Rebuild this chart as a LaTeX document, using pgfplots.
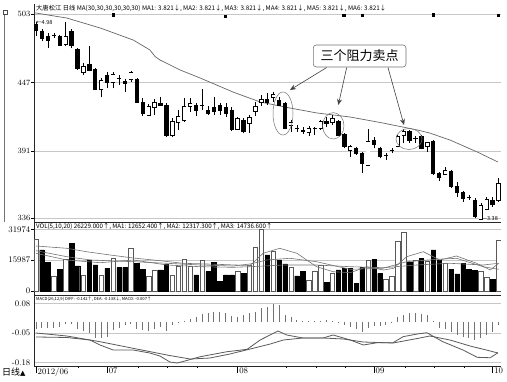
\documentclass[border=0pt]{standalone}
\usepackage{pgfplots}
\usepackage{pgfplotstable}
\pgfplotsset{compat=1.18}
\usetikzlibrary{arrows.meta}
\usepackage{graphicx}
\usepackage{fontspec}
\newfontfamily\cjk{Noto Sans CJK SC}
\newfontfamily\dejavu{DejaVu Sans}

% i: day, l: low, w: high-low, bl: body bottom, d: body height, bh: body top
\pgfplotstableread{
i  l     w     bl    d     bh
1  485   12    490   5     495
2  481.4 9.3   483   6.5   489.5
3  475.4 12.3  481.4 3.2   484.6
4  483.6 4.4   486   0     486
5  477   9     477.8 6.8   484.6
7  475.1 15.6  477.8 11.7  489.5
8  457.4 17.6  458.8 15.5  474.3
10 456.5 20.5  457.4 4.9   462.3
11 441   17.8  441.8 16.4  458.2
13 442.4 13.6  447   6.3   453.3
15 445.1 8.2   450.5 0     450.5
16 439.4 10.4  446.5 1.3   447.8
18 430.6 20    431.4 18.4  449.8
19 419.7 14.8  422   9.4   431.4
22 428   7.5   428.7 1.4   430.1
23 402.6 27.8  404.2 24.5  428.7
28 419.7 10.4  424.7 3.5   428.2
29 424.7 16.9  428.7 0     428.7
30 420.6 7.4   422.4 2.3   424.7
31 420.6 14.4  423.3 3.2   426.5
32 420.6 9.5   424.7 3.5   428.2
33 419.2 10.9  422   4.5   426.5
34 407.7 19.7  408.9 15.8  424.7
36 405.6 12.3  406.9 9     415.9
40 428.7 9.6   431.4 2     433.4
42 428.7 6.8   428.7 4.1   432.8
43 409.1 22.3  409.7 20.4  430.1
45 406.9 5.5   410.1 0     410.1
46 405   6     406.9 1.4   408.3
48 404.2 6.8   409.6 0     409.6
50 411   8.2   413.8 1.3   415.1
52 403.4 13.1  404.2 10.9  415.1
53 393.3 12.8  395.2 9.8   405
55 387.8 6.8   389.2 4.1   393.3
56 373.3 17.2  381   8.2   389.2
58 393.3 9.5   396.8 3.3   400.1
59 385.1 9.5   386.4 6.9   393.3
60 383.7 6     387.8 0     387.8
61 389.7 3.6   391.9 0     391.9
64 397.9 10.4  400.1 6.8   406.9
65 397.9 5.5   401.6 0     401.6
66 392.5 11.7  393.3 10.1  403.4
68 371.5 28.6  372.8 25.9  398.7
69 366.8 7.4   369.6 3.2   372.8
71 360.6 15    361.9 12.3  374.2
72 353.7 12.2  357   4.9   361.9
73 349.6 9     352.4 4.6   357
74 351   4.1   353.6 0     353.6
75 336   16.4  337.3 13.7  351
78 345.5 8.2   347.7 3.3   351
}\downT
\pgfplotstableread{
i  l     w     bl    d     bh
6  477   19.9  478.7 6.5   485.2
9  453.3 9.7   455.2 5.5   460.7
12 435   15.6  441.6 7     448.6
14 442.4 13.6  447.3 6.6   453.9
17 447.8 8.8   449.8 5.4   455.2
20 419.7 9.9   420.6 7.3   427.9
21 420.6 12.8  427.3 3.3   430.6
24 402.6 15.3  404.2 10.9  415.1
25 408.3 16.4  414.3 5.4   419.7
26 415.1 19.1  416.5 10.9  427.4
27 423.3 10.9  427.4 2.7   430.1
35 408.3 10.9  408.9 9     417.9
37 405.6 15    413.8 4.9   418.7
38 419.7 11.7  423.3 4.6   427.9
39 428   8.9   430.6 2.8   433.4
41 431.4 8.2   435.1 2.4   437.5
44 406.9 9.6   412.4 1.9   414.3
47 403.4 8.2   406.1 3.6   409.7
49 408.3 8.2   409.7 5.4   415.1
51 412.4 8.2   414.3 3.6   417.9
54 386.2 9.8   391.9 2.7   394.6
57 378.8 30.1  379.6 19.1  398.7
62 394.1 10.1  395.2 7.6   402.8
63 397.4 11.5  404.2 2.7   406.9
67 390.5 8.2   394.6 3.3   397.9
70 371.5 6.3   372.3 3.3   375.6
76 334.6 13.7  335.2 11.1  346.3
77 342.8 10.9  343.4 8.2   351.6
79 349.6 19.2  351   13.7  364.7
}\upT

\pgfplotsset{
  panel/.style={scale only axis, width=467pt, xmin=0.663, xmax=79.41,
    axis lines*=left, axis line style={black!85, line width=0.7pt},
    tick align=outside, major tick length=2.5pt,
    ymajorgrids, grid style={black!22, line width=0.5pt},
    yticklabel style={font=\fontsize{8.5}{9}\selectfont, inner sep=1pt},
    every tick/.style={black, line width=0.5pt},
    xtick=\empty, scaled y ticks=false},
  barlines/.style={draw=none, mark=none, forget plot,
    error bars/.cd, y dir=plus, y explicit, error mark=none,
    error bar style={draw=black, line width=#1}},
  edges/.style={only marks, mark=-, mark size=2.15pt, forget plot,
    mark options={draw=black, line width=0.5pt}},
}

\begin{document}
\begin{tikzpicture}[x=1pt,y=1pt]
\useasboundingbox (0,0) rectangle (507,-382);

% outer left frame line and corner icon
\draw[black!55, line width=0.6pt] (4,-15) -- (4,-222);
\draw[black!70, line width=0.5pt] (3,-10.5) rectangle (7,-14.5);

% ---------------- price panel ----------------
\begin{axis}[panel, at={(34pt,-4pt)}, anchor=north west, height=218pt,
  ymin=333.0, ymax=511.4, ytick={336,391,447,503}]
\addplot[black!60, line width=0.7pt] coordinates {
 (0.7,504.3) (1,504.0) (6.2,499.9) (11.8,491.8) (17.4,481.9) (20.2,473.8) (21.1,468.3)
 (21.9,465.6) (25.3,457.4) (28.7,450.8) (34.2,439.4) (38.8,431.2) (43.8,426.3)
 (48.4,422.2) (54,418.9) (59.5,414.0) (65.3,408.3) (67.4,405.8) (70.8,400.1)
 (75.4,390.3) (78.9,382.1)};
% wicks
\addplot[barlines=0.5pt] table[x=i, y=l, y error plus=w] {\downT};
\addplot[barlines=0.5pt] table[x=i, y=l, y error plus=w] {\upT};
% black bodies
\addplot[barlines=4.3pt] table[x=i, y=bl, y error plus=d] {\downT};
\addplot[edges] table[x=i, y=bl] {\downT};
\addplot[edges] table[x=i, y=bh] {\downT};
% white bodies
\addplot[barlines=4.3pt] table[x=i, y=bl, y error plus=d] {\upT};
\addplot[draw=none, mark=none, forget plot, error bars/.cd, y dir=plus, y explicit, error mark=none,
  error bar style={draw=white, line width=3.3pt}] table[x=i, y=bl, y error plus=d] {\upT};
\addplot[edges] table[x=i, y=bl] {\upT};
\addplot[edges] table[x=i, y=bh] {\upT};
\addplot[only marks, mark=square*, mark size=1.2pt, black] coordinates {
 (14,502.6) (32.9,501.5) (52.9,502.4) (56,502.4) (68,502.6) (78.9,502.4)};
\end{axis}

% ---------------- volume panel ----------------
\begin{axis}[panel, at={(34pt,-222pt)}, anchor=north west, height=73pt,
  ymin=-2073, ymax=35756, ytick={0,15987,31974}, yticklabels={0,15987,31974}]
\addplot[ybar, bar width=0.75, bar shift=0pt, draw=black, fill=black, line width=0.4pt] coordinates {
 (2,21246) (3,14665) (5,11245) (7,24718) (8,12955) (10,16064) (11,13473) (13,11763)
 (15,12074) (16,12281) (18,14354) (19,11245) (22,10882) (23,13836) (28,8291) (30,10001)
 (31,14665) (32,4819) (33,8291) (34,8291) (36,9172) (40,18655) (42,16064) (43,13991)
 (45,7773) (46,10001) (50,4301) (52,10882) (53,11763) (54,11763) (55,3990) (56,12074)
 (58,16427) (59,9172) (64,14665) (66,16945) (68,21246) (69,15701) (71,11245) (72,8809)
 (73,14354) (74,11245) (75,10519) (78,6063)};
\addplot[ybar, bar width=0.75, bar shift=0pt, draw=black!65, fill=white, line width=0.5pt] coordinates {
 (1,26790) (4,7410) (6,16427) (9,8291) (12,8291) (14,16945) (17,22127) (20,7410)
 (21,10882) (24,8291) (25,12592) (26,16427) (27,12592) (29,16064) (35,10001) (37,13473)
 (38,22542) (39,31973) (41,20365) (44,12281) (47,5700) (48,10001) (49,13473) (51,9172)
 (57,16064) (60,6063) (61,7410) (62,25547) (63,30211) (65,16064) (67,15183) (70,14354)
 (76,10001) (77,7099) (79,26066)};
\addplot[black!55, line width=0.6pt] coordinates {
 (1,23319) (6.2,22127) (9.5,20365) (13.5,18655) (17.4,17101) (21.9,15701) (25.8,14354)
 (31.5,13836) (37.1,13200) (39.3,19536) (42.1,22127) (45,19536) (48.3,12592) (51.1,10001)
 (54,9483) (56.8,12592) (59.6,10882) (61.3,11763) (63.5,17774) (66.3,20365) (69.1,16064)
 (71.9,18137) (75.3,14354) (77.6,10882) (79,14354)};
\addplot[black!55, line width=0.6pt] coordinates {
 (1,20884) (6.2,17774) (10.2,16064) (17.4,15183) (23.1,14354) (28.7,13473) (34.2,12955)
 (37.1,13991) (39.9,16064) (43.8,16945) (48.3,15183) (54,11245) (59.5,11763) (63.5,15183)
 (68.6,16427) (71.9,16945) (76.4,12592) (79,11245)};
\addplot[black!55, line width=0.6pt] coordinates {
 (1,19536) (6.2,16064) (11.8,14665) (17.4,16064) (23.1,13473) (28.7,12592) (34.2,12281)
 (37.1,12592) (42.7,13473) (48.3,13473) (54,12592) (59.6,12074) (65.2,13473) (70.8,14354)
 (76.4,13473) (79,14354)};
\end{axis}

% ---------------- MACD panel ----------------
\begin{axis}[panel, at={(34pt,-295pt)}, anchor=north west, height=71pt,
  ymin=-0.1944, ymax=0.1164, ytick={-0.18,-0.05,0.08}, yticklabels={-0.18,-0.05,0.08},
  major tick length=7pt, minor tick length=2pt, ytick style={draw=none},
  yticklabel style={xshift=4.5pt},
  xtick={1,13,35,58,78}, xticklabels={2012/06,07,08,09,10},
  minor xtick={8.2,18.2,23.2,28.2,43.2,48.2,53.2,63.2,68.2,73.2},
  xticklabel style={anchor=north west, font=\fontsize{8.5}{9}\selectfont, inner sep=1pt, yshift=6pt, xshift=0.5pt}]
\addplot[ycomb, black!55, line width=0.9pt, mark=none] coordinates {
 (1,-0.032) (2,-0.029) (3,-0.029) (4,-0.026) (5,-0.022) (6,-0.012) (7,-0.012) (8,-0.032)
 (9,-0.041) (10,-0.051) (11,-0.070) (12,-0.073) (13,-0.066) (14,-0.036) (15,-0.026)
 (16,-0.015) (17,-0.010) (18,-0.032) (19,-0.036) (20,-0.041) (21,-0.032) (22,-0.022)
 (23,-0.041) (24,-0.015) (25,-0.007) (26,0.003) (27,0.012) (28,0.022) (29,0.032)
 (30,0.036) (31,0.041) (32,0.041) (33,0.036) (34,0.026) (35,0.022) (36,0.029) (37,0.036)
 (38,0.041) (39,0.058) (40,0.066) (41,0.076) (42,0.073) (43,0.029) (44,0.022) (45,0.007)
 (46,0.002) (47,0.002) (48,0.002) (49,0.003) (50,0.007) (51,0.003) (52,-0.007) (53,-0.015)
 (54,-0.022) (55,-0.032) (56,-0.047) (57,-0.026) (58,-0.018) (59,-0.018) (60,-0.015)
 (61,-0.007) (62,0.018) (63,0.029) (64,0.036) (65,0.036) (66,0.032) (67,0.029) (68,0.003)
 (69,-0.029) (70,-0.032) (71,-0.047) (72,-0.058) (73,-0.066) (74,-0.073) (75,-0.080)
 (76,-0.073) (77,-0.058) (78,-0.047) (79,-0.015)};
\addplot[black!65, line width=0.8pt] coordinates {
 (1,-0.0499) (6.2,-0.0631) (11.8,-0.0881) (17.4,-0.1170) (23.1,-0.1464) (27,-0.1639)
 (30.3,-0.1595) (33.7,-0.1420) (37.1,-0.1201) (40.5,-0.0981) (42.7,-0.0806) (46,-0.0718)
 (49.4,-0.0718) (52.8,-0.0762) (56.2,-0.0894) (61.2,-0.0937) (65.3,-0.0740) (67.4,-0.0631)
 (70.8,-0.0806) (74.2,-0.1069) (77.6,-0.1288) (78.9,-0.1376)};
\addplot[black!65, line width=0.8pt] coordinates {
 (1,-0.0674) (6.2,-0.0696) (10.1,-0.0806) (11.8,-0.1025) (14,-0.1244) (17.4,-0.1244)
 (20.2,-0.1376) (21.9,-0.1507) (23.6,-0.1770) (24.8,-0.1814) (26.1,-0.1726) (28.7,-0.1538)
 (33.2,-0.1319) (36.6,-0.1214) (38.8,-0.0806) (41.8,-0.0412) (43.3,-0.0587) (46,-0.0718)
 (49.4,-0.0718) (51.1,-0.0587) (54,-0.0806) (56.2,-0.1025) (58.5,-0.0925) (61.2,-0.0925)
 (62.9,-0.0661) (65.3,-0.0543) (66.9,-0.0486) (69.6,-0.0881) (73,-0.1244) (75.4,-0.1564)
 (77.6,-0.1582) (78.9,-0.1363)};
\end{axis}

% ---------------- texts and annotations ----------------
\node[anchor=west, inner sep=0pt] at (36,-8.5) {\resizebox{350pt}{!}{\cjk\fontsize{6}{7}\selectfont 大唐松江 日线 MA(30,30,30,30,30,30) MA1: 3.821↓, MA2: 3.821↓, MA3: 3.821↓, MA4: 3.821↓, MA5: 3.821↓, MA6: 3.821↓}};
\node[anchor=west, inner sep=0pt] at (36,-226.5) {\resizebox{236pt}{!}{\cjk\fontsize{6}{7}\selectfont VOL(5,10,20) 26229.000↑, MA1: 12652.400↑, MA2: 12317.300↑, MA3: 14736.600↑}};
\node[anchor=west, inner sep=0pt] at (36,-299.5) {\resizebox{115pt}{!}{\cjk\fontsize{6}{7}\selectfont MACD(26,12,9) DIFF: -0.142↑, DEA: -0.138↓, MACD: -0.007↑}};
\node[anchor=west, inner sep=0pt] at (36,-22.5) {\cjk\fontsize{5.5}{6}\selectfont ←4.98};
\node[anchor=west, inner sep=0pt] at (482,-219) {\cjk\fontsize{5.5}{6}\selectfont —3.38};
\node[anchor=west, inner sep=0pt] at (2,-372.5) {\cjk\fontsize{9}{10}\selectfont 日线\dejavu\fontsize{7}{8}\selectfont ▲};

\draw[black!55, line width=0.5pt] (283,-113.5) ellipse [x radius=10, y radius=21.5];
\draw[black!55, line width=0.5pt] (333.3,-125.8) ellipse [x radius=10.7, y radius=13.2];
\draw[black!55, line width=0.5pt] (409,-139) ellipse [x radius=13, y radius=10.5];
\draw[black!75, line width=0.6pt, -{Stealth[length=6pt,width=5pt]}] (326.7,-67.5) -- (290,-90);
\draw[black!75, line width=0.6pt, -{Stealth[length=6pt,width=5pt]}] (346.7,-67.5) -- (338.3,-105);
\draw[black!75, line width=0.6pt, -{Stealth[length=6pt,width=5pt]}] (388,-67.5) -- (404,-125);
\draw[black!55, line width=0.6pt, fill=white, rounded corners=3pt] (313.3,-45) rectangle (406,-67);
\node at (359.7,-56) {\cjk\fontsize{13}{15}\selectfont 三个阻力卖点};
\end{tikzpicture}
\end{document}
